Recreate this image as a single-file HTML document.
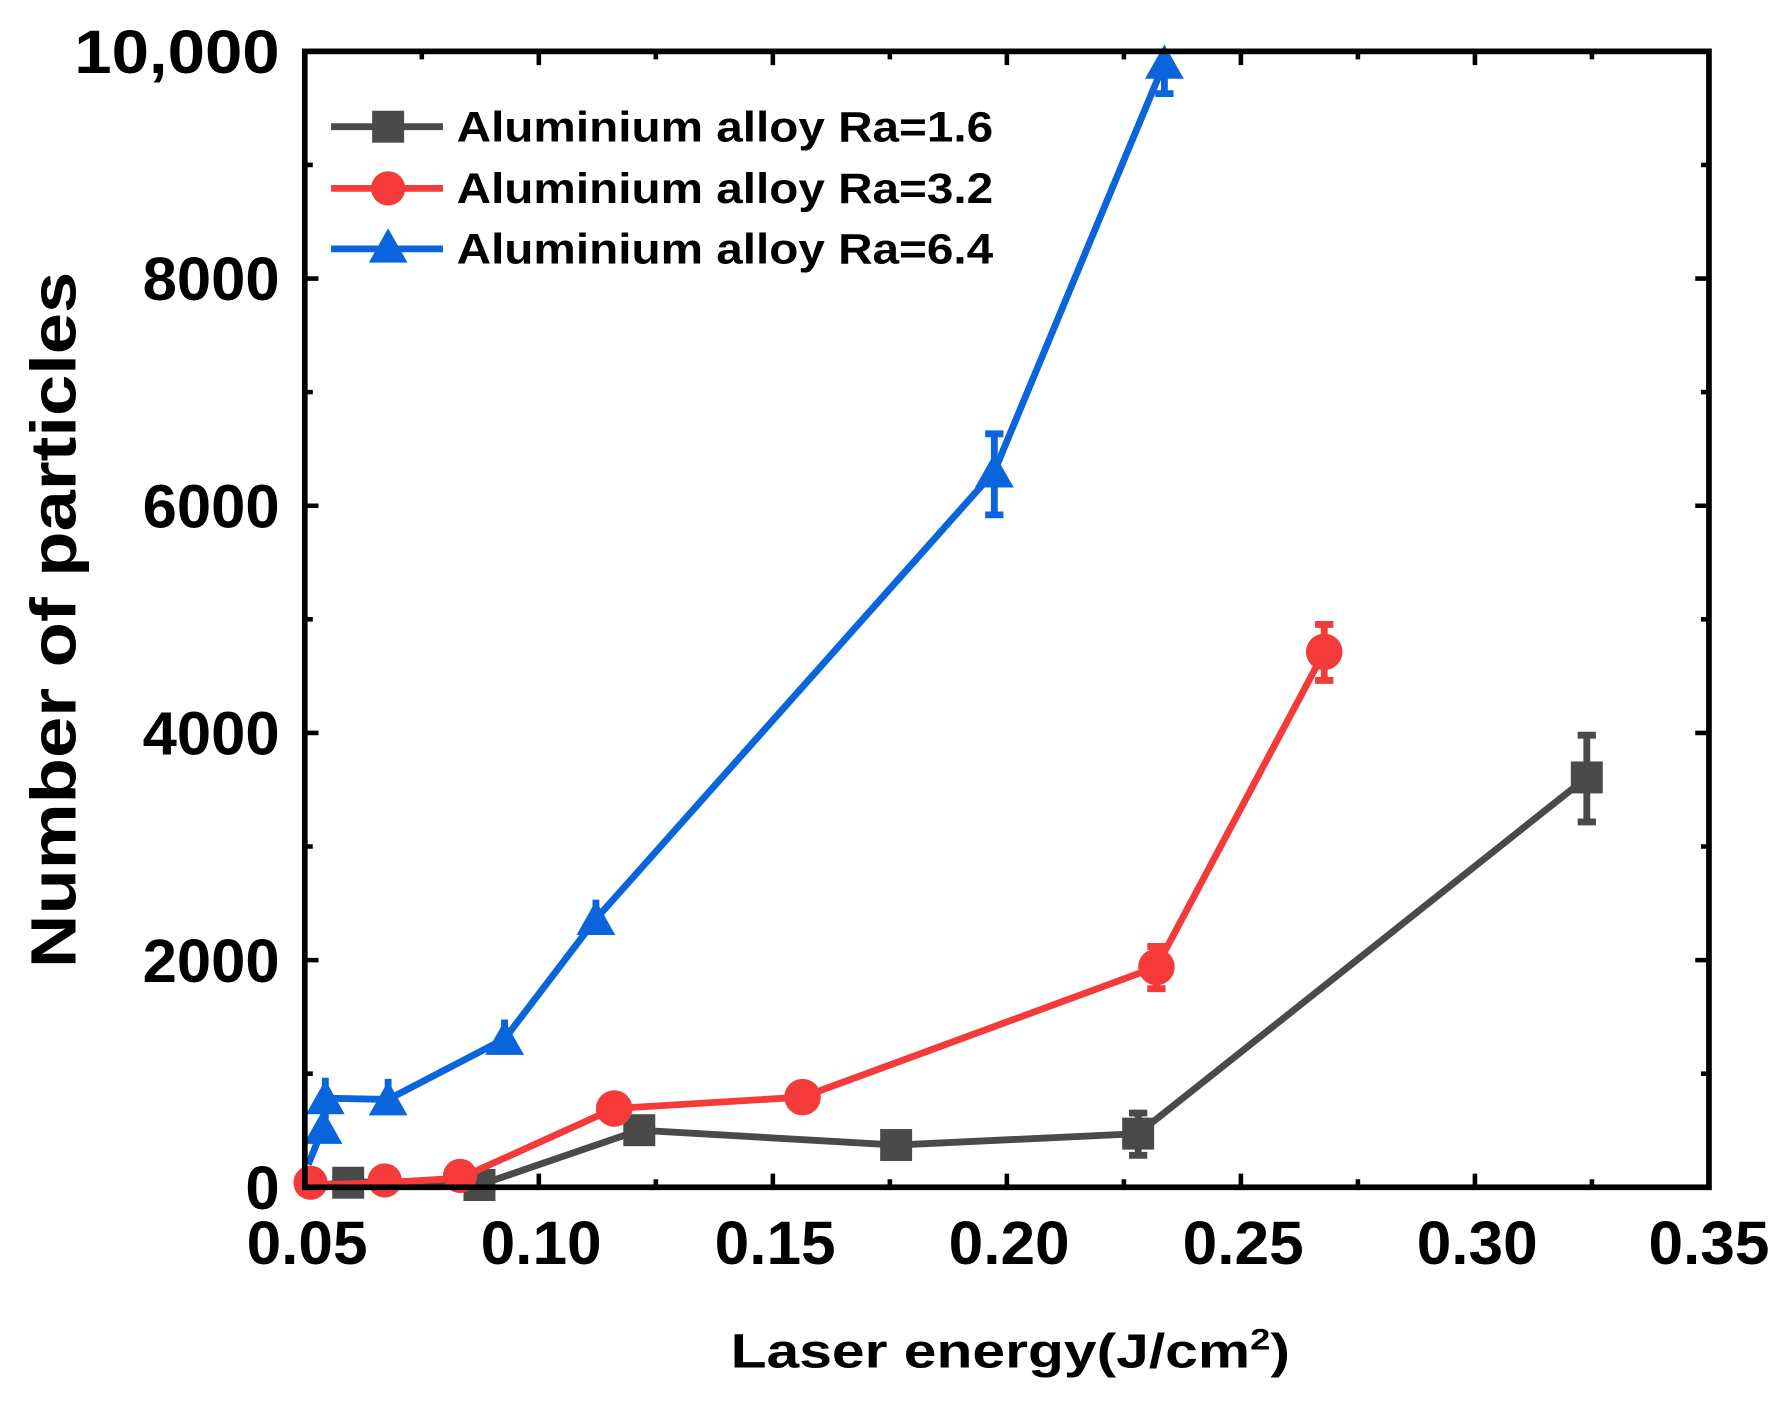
<!DOCTYPE html>
<html><head><meta charset="utf-8"><style>html,body{margin:0;padding:0;background:#fff}svg{display:block}</style></head><body>
<svg width="1790" height="1401" viewBox="0 0 1568 1227.2" preserveAspectRatio="none" xmlns="http://www.w3.org/2000/svg" font-family="Liberation Sans, Arial, sans-serif" font-weight="bold">
<rect width="1568" height="1227.2" fill="#fff"/>
<g stroke="#000" stroke-width="4">
<path d="M267 1040v-12M472 1040v-12M677 1040v-12M882 1040v-12M1087 1040v-12M1292 1040v-12M1497 1040v-12"/>
<path d="M369.5 1040v-7M574.5 1040v-7M779.5 1040v-7M984.5 1040v-7M1189.5 1040v-7M1394.5 1040v-7"/>
<path d="M267 45v12M472 45v12M677 45v12M882 45v12M1087 45v12M1292 45v12M1497 45v12"/>
<path d="M369.5 45v7M574.5 45v7M779.5 45v7M984.5 45v7M1189.5 45v7M1394.5 45v7"/>
<path d="M267 841h12M267 642h12M267 443h12M267 244h12M1497 841h-12M1497 642h-12M1497 443h-12M1497 244h-12"/>
<path d="M267 940.5h7M267 741.5h7M267 542.5h7M267 343.5h7M267 144.5h7M1497 940.5h-7M1497 741.5h-7M1497 542.5h-7M1497 343.5h-7M1497 144.5h-7"/>
</g>
<g stroke="#4a4a4a" stroke-width="6" fill="none">
<polyline points="270,1040 305,1035 420,1038 560,990 785,1003 997,993 1390,681"/>
<path d="M997 975v37M989 975h16M989 1012h16M1390 644v76M1382 644h16M1382 720h16M560 980v20M785 993v20"/>
</g>
<g fill="#4a4a4a"><rect x="291" y="1022" width="28" height="28"/><rect x="406" y="1024" width="28" height="28"/><rect x="546" y="976" width="28" height="28"/><rect x="771" y="989" width="28" height="28"/><rect x="983" y="979" width="28" height="28"/><rect x="1376" y="667" width="28" height="28"/></g>
<g stroke="#f53a3a" stroke-width="6" fill="none">
<polyline points="270,1038 337,1036 403,1032 538,971 703,961 1013,847 1160,571"/>
<path d="M1013 829v37M1005 829h16M1005 866h16M1160 547v49M1152 547h16M1152 596h16"/>
</g>
<g fill="#f53a3a"><circle cx="272" cy="1036" r="15"/><circle cx="337" cy="1034" r="15"/><circle cx="403" cy="1030" r="15"/><circle cx="538" cy="971" r="16"/><circle cx="703" cy="961" r="16"/><circle cx="1013" cy="847" r="16"/><circle cx="1160" cy="571" r="16"/></g>
<g stroke="#0a64dc" stroke-width="6" fill="none">
<polyline points="270,1020 283,988 285,962 340,963 442,910 522,805 871,413 1020,55"/>
<path d="M871 380v71M863 380h16M863 451h16M1020 45v37M1012 82h16M522 788v28M442 893v30M285 944v36M340 945v30"/>
</g>
<g fill="#0a64dc"><path d="M283 972l17 30h-34zM285 946l17 30h-34zM340 947l17 30h-34zM442 894l17 30h-34zM522 789l17 30h-34zM871 397l17 30h-34zM1020 39l17 30h-34z"/></g>
<rect x="267" y="45" width="1230" height="995" fill="none" stroke="#000" stroke-width="5"/>
<g stroke-width="6"><path d="M290 111h98" stroke="#4a4a4a"/><path d="M290 165h98" stroke="#f53a3a"/><path d="M290 218h98" stroke="#0a64dc"/></g>
<rect x="326" y="97" width="28" height="28" fill="#4a4a4a"/><circle cx="340" cy="165" r="15" fill="#f53a3a"/><path d="M340 200l17 30h-34z" fill="#0a64dc"/>
<g font-size="37" fill="#000"><text x="400" y="124" textLength="470" lengthAdjust="spacingAndGlyphs">Aluminium alloy Ra=1.6</text><text x="400" y="178" textLength="470" lengthAdjust="spacingAndGlyphs">Aluminium alloy Ra=3.2</text><text x="400" y="231" textLength="470" lengthAdjust="spacingAndGlyphs">Aluminium alloy Ra=6.4</text></g>
<g font-size="54" text-anchor="end" fill="#000">
<text x="245" y="64" textLength="180" lengthAdjust="spacingAndGlyphs">10,000</text>
<text x="245" y="263" textLength="120" lengthAdjust="spacingAndGlyphs">8000</text><text x="245" y="462" textLength="120" lengthAdjust="spacingAndGlyphs">6000</text><text x="245" y="661" textLength="120" lengthAdjust="spacingAndGlyphs">4000</text><text x="245" y="860" textLength="120" lengthAdjust="spacingAndGlyphs">2000</text><text x="245" y="1059">0</text>
</g>
<g font-size="54" text-anchor="middle" fill="#000">
<text x="269" y="1107" textLength="106" lengthAdjust="spacingAndGlyphs">0.05</text><text x="474" y="1107" textLength="106" lengthAdjust="spacingAndGlyphs">0.10</text><text x="679" y="1107" textLength="106" lengthAdjust="spacingAndGlyphs">0.15</text><text x="884" y="1107" textLength="106" lengthAdjust="spacingAndGlyphs">0.20</text><text x="1089" y="1107" textLength="106" lengthAdjust="spacingAndGlyphs">0.25</text><text x="1294" y="1107" textLength="106" lengthAdjust="spacingAndGlyphs">0.30</text><text x="1497" y="1107" textLength="106" lengthAdjust="spacingAndGlyphs">0.35</text>
</g>
<text transform="translate(66,543) rotate(-90)" font-size="56" text-anchor="middle" textLength="610" lengthAdjust="spacingAndGlyphs">Number of particles</text>
<text x="640" y="1198" font-size="42" textLength="490" lengthAdjust="spacingAndGlyphs">Laser energy(J/cm<tspan font-size="26" dy="-16">2</tspan><tspan dy="16">)</tspan></text>
</svg>
</body></html>
